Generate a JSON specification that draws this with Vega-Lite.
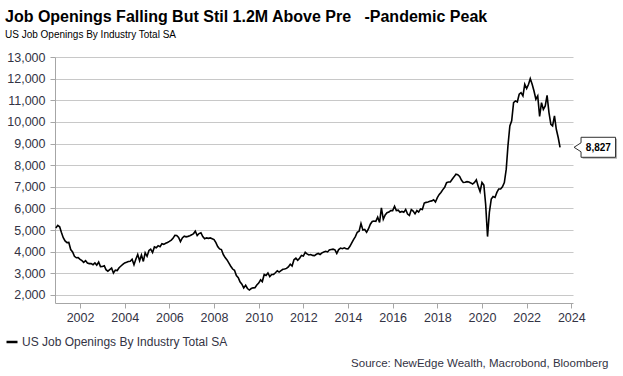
{
  "$schema": "https://vega.github.io/schema/vega-lite/v6.json",
  "autosize": {"type": "none"},
  "padding": {"left": 55, "right": 50, "top": 57, "bottom": 73},
  "width": 518,
  "height": 246,
  "background": "white",
  "config": {
    "font": "Liberation Sans",
    "view": {"stroke": null}
  },
  "title": {
    "text": "Job Openings Falling But Stil 1.2M Above Pre\u00a0\u00a0\u00a0-Pandemic Peak",
    "subtitle": "US Job Openings By Industry Total SA",
    "anchor": "start",
    "frame": "group",
    "dx": -50,
    "offset": 11,
    "fontSize": 16,
    "fontWeight": "bold",
    "color": "#000000",
    "subtitleFontSize": 10,
    "subtitleColor": "#000000",
    "subtitlePadding": 5
  },
  "datasets": {
    "last": [{"date": "2023-07-01", "v": 8827, "label": "8,827"}]
  },
  "encoding": {
    "x": {
      "field": "date", "type": "temporal",
      "scale": {"domain": [{"year": 2000, "month": 11, "date": 17}, {"year": 2024, "month": 1, "date": 29}], "nice": false},
      "axis": {
        "values": [{"year":2002},{"year":2004},{"year":2006},{"year":2008},{"year":2010},{"year":2012},{"year":2014},{"year":2016},{"year":2018},{"year":2020},{"year":2022},{"year":2024}],
        "format": "%Y",
        "grid": false,
        "domainColor": "#a6a6a6",
        "tickColor": "#a6a6a6",
        "tickSize": 5,
        "labelPadding": 3,
        "labelFontSize": 12.5,
        "labelColor": "#333344",
        "labelFlush": false,
        "labelOverlap": false,
        "title": "Source: NewEdge Wealth, Macrobond, Bloomberg",
        "titleAnchor": "end",
        "titleAlign": "right",
        "titleBaseline": "alphabetic",
        "titleX": 553,
        "titleY": 63,
        "titleFontSize": 11.5,
        "titleFontWeight": "normal",
        "titleColor": "#333344"
      }
    },
    "y": {
      "field": "v", "type": "quantitative",
      "scale": {"domain": [1630, 13000], "nice": false, "zero": false},
      "axis": {
        "values": [2000,3000,4000,5000,6000,7000,8000,9000,10000,11000,12000,13000],
        "format": ",.0f",
        "labelOverlap": false,
        "labelFlush": false,
        "grid": true,
        "gridColor": "#c8c8c8",
        "gridWidth": 1.2,
        "domainColor": "#a6a6a6",
        "tickColor": "#a6a6a6",
        "tickSize": 5,
        "labelPadding": 5,
        "labelFontSize": 12.5,
        "labelColor": "#333344",
        "title": null
      }
    }
  },
  "layer": [
    {
      "data": {"values": [
        {"date":"2000-12-01","v":5100},
        {"date":"2001-01-01","v":5220},{"date":"2001-02-01","v":5150},{"date":"2001-03-01","v":4900},{"date":"2001-04-01","v":4650},{"date":"2001-05-01","v":4500},{"date":"2001-06-01","v":4420},{"date":"2001-07-01","v":4430},{"date":"2001-08-01","v":4100},{"date":"2001-09-01","v":3990},{"date":"2001-10-01","v":3790},{"date":"2001-11-01","v":3720},{"date":"2001-12-01","v":3730},
        {"date":"2002-01-01","v":3650},{"date":"2002-02-01","v":3590},{"date":"2002-03-01","v":3510},{"date":"2002-04-01","v":3590},{"date":"2002-05-01","v":3480},{"date":"2002-06-01","v":3450},{"date":"2002-07-01","v":3450},{"date":"2002-08-01","v":3400},{"date":"2002-09-01","v":3480},{"date":"2002-10-01","v":3380},{"date":"2002-11-01","v":3520},{"date":"2002-12-01","v":3310},
        {"date":"2003-01-01","v":3320},{"date":"2003-02-01","v":3350},{"date":"2003-03-01","v":3170},{"date":"2003-04-01","v":3100},{"date":"2003-05-01","v":3170},{"date":"2003-06-01","v":3240},{"date":"2003-07-01","v":3020},{"date":"2003-08-01","v":3150},{"date":"2003-09-01","v":3130},{"date":"2003-10-01","v":3260},{"date":"2003-11-01","v":3340},{"date":"2003-12-01","v":3410},
        {"date":"2004-01-01","v":3480},{"date":"2004-02-01","v":3510},{"date":"2004-03-01","v":3550},{"date":"2004-04-01","v":3560},{"date":"2004-05-01","v":3650},{"date":"2004-06-01","v":3400},{"date":"2004-07-01","v":3650},{"date":"2004-08-01","v":3870},{"date":"2004-09-01","v":3580},{"date":"2004-10-01","v":3850},{"date":"2004-11-01","v":3550},{"date":"2004-12-01","v":3950},
        {"date":"2005-01-01","v":3790},{"date":"2005-02-01","v":4060},{"date":"2005-03-01","v":4120},{"date":"2005-04-01","v":3960},{"date":"2005-05-01","v":4220},{"date":"2005-06-01","v":4180},{"date":"2005-07-01","v":4280},{"date":"2005-08-01","v":4230},{"date":"2005-09-01","v":4370},{"date":"2005-10-01","v":4340},{"date":"2005-11-01","v":4390},{"date":"2005-12-01","v":4430},
        {"date":"2006-01-01","v":4480},{"date":"2006-02-01","v":4540},{"date":"2006-03-01","v":4620},{"date":"2006-04-01","v":4760},{"date":"2006-05-01","v":4750},{"date":"2006-06-01","v":4660},{"date":"2006-07-01","v":4470},{"date":"2006-08-01","v":4640},{"date":"2006-09-01","v":4720},{"date":"2006-10-01","v":4690},{"date":"2006-11-01","v":4710},{"date":"2006-12-01","v":4740},
        {"date":"2007-01-01","v":4780},{"date":"2007-02-01","v":4840},{"date":"2007-03-01","v":4950},{"date":"2007-04-01","v":4750},{"date":"2007-05-01","v":4840},{"date":"2007-06-01","v":4880},{"date":"2007-07-01","v":4700},{"date":"2007-08-01","v":4600},{"date":"2007-09-01","v":4640},{"date":"2007-10-01","v":4620},{"date":"2007-11-01","v":4640},{"date":"2007-12-01","v":4600},
        {"date":"2008-01-01","v":4560},{"date":"2008-02-01","v":4420},{"date":"2008-03-01","v":4240},{"date":"2008-04-01","v":4130},{"date":"2008-05-01","v":4100},{"date":"2008-06-01","v":3870},{"date":"2008-07-01","v":3730},{"date":"2008-08-01","v":3620},{"date":"2008-09-01","v":3470},{"date":"2008-10-01","v":3330},{"date":"2008-11-01","v":3200},{"date":"2008-12-01","v":3140},
        {"date":"2009-01-01","v":2900},{"date":"2009-02-01","v":2800},{"date":"2009-03-01","v":2610},{"date":"2009-04-01","v":2500},{"date":"2009-05-01","v":2330},{"date":"2009-06-01","v":2450},{"date":"2009-07-01","v":2300},{"date":"2009-08-01","v":2230},{"date":"2009-09-01","v":2300},{"date":"2009-10-01","v":2330},{"date":"2009-11-01","v":2340},{"date":"2009-12-01","v":2460},
        {"date":"2010-01-01","v":2550},{"date":"2010-02-01","v":2700},{"date":"2010-03-01","v":2620},{"date":"2010-04-01","v":2950},{"date":"2010-05-01","v":2900},{"date":"2010-06-01","v":3020},{"date":"2010-07-01","v":2850},{"date":"2010-08-01","v":2950},{"date":"2010-09-01","v":2950},{"date":"2010-10-01","v":3030},{"date":"2010-11-01","v":3120},{"date":"2010-12-01","v":3060},
        {"date":"2011-01-01","v":3130},{"date":"2011-02-01","v":3190},{"date":"2011-03-01","v":3200},{"date":"2011-04-01","v":3230},{"date":"2011-05-01","v":3300},{"date":"2011-06-01","v":3420},{"date":"2011-07-01","v":3340},{"date":"2011-08-01","v":3630},{"date":"2011-09-01","v":3700},{"date":"2011-10-01","v":3600},{"date":"2011-11-01","v":3700},{"date":"2011-12-01","v":3830},
        {"date":"2012-01-01","v":3800},{"date":"2012-02-01","v":3970},{"date":"2012-03-01","v":3900},{"date":"2012-04-01","v":3850},{"date":"2012-05-01","v":3870},{"date":"2012-06-01","v":3830},{"date":"2012-07-01","v":3820},{"date":"2012-08-01","v":3880},{"date":"2012-09-01","v":3920},{"date":"2012-10-01","v":3870},{"date":"2012-11-01","v":3950},{"date":"2012-12-01","v":3990},
        {"date":"2013-01-01","v":4020},{"date":"2013-02-01","v":3990},{"date":"2013-03-01","v":4080},{"date":"2013-04-01","v":4100},{"date":"2013-05-01","v":4120},{"date":"2013-06-01","v":4090},{"date":"2013-07-01","v":3920},{"date":"2013-08-01","v":4100},{"date":"2013-09-01","v":4170},{"date":"2013-10-01","v":4140},{"date":"2013-11-01","v":4180},{"date":"2013-12-01","v":4140},
        {"date":"2014-01-01","v":4130},{"date":"2014-02-01","v":4250},{"date":"2014-03-01","v":4400},{"date":"2014-04-01","v":4560},{"date":"2014-05-01","v":4700},{"date":"2014-06-01","v":4900},{"date":"2014-07-01","v":4950},{"date":"2014-08-01","v":5300},{"date":"2014-09-01","v":5000},{"date":"2014-10-01","v":5030},{"date":"2014-11-01","v":4900},{"date":"2014-12-01","v":5050},
        {"date":"2015-01-01","v":5270},{"date":"2015-02-01","v":5400},{"date":"2015-03-01","v":5420},{"date":"2015-04-01","v":5400},{"date":"2015-05-01","v":5600},{"date":"2015-06-01","v":5350},{"date":"2015-07-01","v":6030},{"date":"2015-08-01","v":5500},{"date":"2015-09-01","v":5700},{"date":"2015-10-01","v":5800},{"date":"2015-11-01","v":5830},{"date":"2015-12-01","v":5900},
        {"date":"2016-01-01","v":5900},{"date":"2016-02-01","v":6100},{"date":"2016-03-01","v":5900},{"date":"2016-04-01","v":5920},{"date":"2016-05-01","v":5820},{"date":"2016-06-01","v":5860},{"date":"2016-07-01","v":5820},{"date":"2016-08-01","v":5950},{"date":"2016-09-01","v":5740},{"date":"2016-10-01","v":5680},{"date":"2016-11-01","v":5950},{"date":"2016-12-01","v":5880},
        {"date":"2017-01-01","v":5750},{"date":"2017-02-01","v":5900},{"date":"2017-03-01","v":5830},{"date":"2017-04-01","v":5980},{"date":"2017-05-01","v":5950},{"date":"2017-06-01","v":6250},{"date":"2017-07-01","v":6280},{"date":"2017-08-01","v":6300},{"date":"2017-09-01","v":6330},{"date":"2017-10-01","v":6350},{"date":"2017-11-01","v":6400},{"date":"2017-12-01","v":6300},
        {"date":"2018-01-01","v":6500},{"date":"2018-02-01","v":6650},{"date":"2018-03-01","v":6740},{"date":"2018-04-01","v":6870},{"date":"2018-05-01","v":6980},{"date":"2018-06-01","v":7190},{"date":"2018-07-01","v":7220},{"date":"2018-08-01","v":7220},{"date":"2018-09-01","v":7350},{"date":"2018-10-01","v":7460},{"date":"2018-11-01","v":7580},{"date":"2018-12-01","v":7560},
        {"date":"2019-01-01","v":7480},{"date":"2019-02-01","v":7300},{"date":"2019-03-01","v":7200},{"date":"2019-04-01","v":7210},{"date":"2019-05-01","v":7240},{"date":"2019-06-01","v":7220},{"date":"2019-07-01","v":7180},{"date":"2019-08-01","v":7130},{"date":"2019-09-01","v":7200},{"date":"2019-10-01","v":7320},{"date":"2019-11-01","v":7020},{"date":"2019-12-01","v":6780},
        {"date":"2020-01-01","v":7200},{"date":"2020-02-01","v":7080},{"date":"2020-03-01","v":6200},{"date":"2020-04-01","v":4700},{"date":"2020-05-01","v":5820},{"date":"2020-06-01","v":6430},{"date":"2020-07-01","v":6550},{"date":"2020-08-01","v":6510},{"date":"2020-09-01","v":6740},{"date":"2020-10-01","v":6900},{"date":"2020-11-01","v":6900},{"date":"2020-12-01","v":7000},
        {"date":"2021-01-01","v":7200},{"date":"2021-02-01","v":7815},{"date":"2021-03-01","v":8890},{"date":"2021-04-01","v":9815},{"date":"2021-05-01","v":10050},{"date":"2021-06-01","v":10890},{"date":"2021-07-01","v":10970},{"date":"2021-08-01","v":10920},{"date":"2021-09-01","v":11280},{"date":"2021-10-01","v":11350},{"date":"2021-11-01","v":11200},{"date":"2021-12-01","v":11740},
        {"date":"2022-01-01","v":11540},{"date":"2022-02-01","v":11740},{"date":"2022-03-01","v":12000},{"date":"2022-04-01","v":11740},{"date":"2022-05-01","v":11430},{"date":"2022-06-01","v":11050},{"date":"2022-07-01","v":11200},{"date":"2022-08-01","v":10250},{"date":"2022-09-01","v":10890},{"date":"2022-10-01","v":10580},{"date":"2022-11-01","v":10740},{"date":"2022-12-01","v":11230},
        {"date":"2023-01-01","v":10430},{"date":"2023-02-01","v":9890},{"date":"2023-03-01","v":9815},{"date":"2023-04-01","v":10280},{"date":"2023-05-01","v":9660},{"date":"2023-06-01","v":9280},{"date":"2023-07-01","v":8827}
      ]},
      "transform": [{"calculate": "'US Job Openings By Industry Total SA'", "as": "series"}],
      "mark": {"type": "line", "strokeWidth": 1.6, "interpolate": "linear", "clip": true},
      "encoding": {
        "color": {
          "field": "series", "type": "nominal",
          "scale": {"range": ["#000000"]},
          "legend": {
            "title": null,
            "orient": "none",
            "legendX": -50,
            "legendY": 278,
            "padding": 0,
            "symbolType": "stroke",
            "symbolSize": 121,
            "symbolStrokeWidth": 2.5,
            "labelFontSize": 12,
            "labelColor": "#333344",
            "labelOffset": 3,
            "labelLimit": 400
          }
        }
      }
    },
    {
      "data": {"name": "last"},
      "mark": {"type": "point", "shape": "M22.5,-8.5L57,-8.5L57,11.5L22.5,11.5Z", "size": 4, "filled": true, "fill": "#b0b0b0", "strokeWidth": 0, "opacity": 1}
    },
    {
      "data": {"name": "last"},
      "mark": {"type": "point", "shape": "M14,0L21,-4.5L21,-10L55.5,-10L55.5,10L21,10L21,4.5Z", "size": 4, "filled": true, "fill": "#ffffff", "stroke": "#303030", "strokeWidth": 1, "opacity": 1}
    },
    {
      "data": {"name": "last"},
      "mark": {"type": "text", "dx": 38.3, "dy": 1, "align": "center", "baseline": "middle", "fontSize": 10, "fontWeight": "bold", "color": "#000000"},
      "encoding": {
        "text": {"field": "label"}
      }
    }
  ]
}
